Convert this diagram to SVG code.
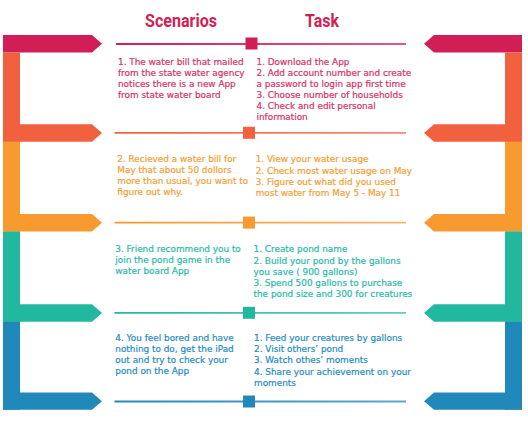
<svg xmlns="http://www.w3.org/2000/svg" width="528" height="428" viewBox="0 0 528 428">
<style>
.t{font-family:"DejaVu Sans","Open Sans",sans-serif;font-size:8.9px;white-space:pre;stroke-width:0.22}
.h{font-family:Roboto,"Liberation Sans",sans-serif;font-weight:700;font-size:17.5px;fill:#D21F56}
.c1{fill:#D21E56}.c2{fill:#F2613F}.c3{fill:#F79A2F}.c4{fill:#22B8A0}.c5{fill:#2189BA}
.x1{fill:#D6336A;stroke:#D6336A}.x2{fill:#F7A035;stroke:#F7A035}.x3{fill:#2DBBA6;stroke:#2DBBA6}.x4{fill:#2A8DBF;stroke:#2A8DBF}
.ln{stroke-width:1.8;fill:none}
</style>
<defs>
<linearGradient id="g1" gradientUnits="userSpaceOnUse" x1="114" x2="406" y1="0" y2="0"><stop offset="0" stop-color="#D21E56"/><stop offset="1" stop-color="#E25A82"/></linearGradient>
<linearGradient id="g2" gradientUnits="userSpaceOnUse" x1="114" x2="406" y1="0" y2="0"><stop offset="0" stop-color="#F2613F"/><stop offset="1" stop-color="#F58A70"/></linearGradient>
<linearGradient id="g3" gradientUnits="userSpaceOnUse" x1="114" x2="406" y1="0" y2="0"><stop offset="0" stop-color="#F7962A"/><stop offset="1" stop-color="#F9B566"/></linearGradient>
<linearGradient id="g4" gradientUnits="userSpaceOnUse" x1="114" x2="406" y1="0" y2="0"><stop offset="0" stop-color="#22B8A0"/><stop offset="1" stop-color="#5FCDBB"/></linearGradient>
<linearGradient id="g5" gradientUnits="userSpaceOnUse" x1="114" x2="406" y1="0" y2="0"><stop offset="0" stop-color="#2189BA"/><stop offset="1" stop-color="#5AA8CF"/></linearGradient>
</defs>

<g id="titles">
<text class="h" x="145" y="26.5" textLength="72" lengthAdjust="spacingAndGlyphs">Scenarios</text>
<text class="h" x="305" y="26.5" textLength="34" lengthAdjust="spacingAndGlyphs">Task</text>
</g>

<g id="frame-1">
<polygon class="c1" points="3,35 92,35 102,43.8 92,52.5 3,52.5"/>
<polygon class="c1" points="522,35 434,35 424,43.8 434,52.5 522,52.5"/>
</g>
<g id="frame-2">
<rect class="c2" x="3" y="52.5" width="17" height="89.3"/>
<rect class="c2" x="505" y="52.5" width="17" height="89.3"/>
<polygon class="c2" points="3,124.3 92,124.3 102,133 92,141.8 3,141.8"/>
<polygon class="c2" points="522,124.3 434,124.3 424,133 434,141.8 522,141.8"/>
</g>
<g id="frame-3">
<rect class="c3" x="3" y="141.8" width="17" height="89.7"/>
<rect class="c3" x="505" y="141.8" width="17" height="89.7"/>
<polygon class="c3" points="3,214 92,214 102,222.8 92,231.5 3,231.5"/>
<polygon class="c3" points="522,214 434,214 424,222.8 434,231.5 522,231.5"/>
</g>
<g id="frame-4">
<rect class="c4" x="3" y="231.5" width="17" height="90.2"/>
<rect class="c4" x="505" y="231.5" width="17" height="90.2"/>
<polygon class="c4" points="3,304.2 92,304.2 102,313 92,321.7 3,321.7"/>
<polygon class="c4" points="522,304.2 434,304.2 424,313 434,321.7 522,321.7"/>
</g>
<g id="frame-5">
<rect class="c5" x="3" y="321.7" width="17" height="88"/>
<rect class="c5" x="505" y="321.7" width="17" height="88"/>
<polygon class="c5" points="3,392.5 92,392.5 102,401.2 92,409.7 3,409.7"/>
<polygon class="c5" points="522,392.5 434,392.5 424,401.2 434,409.7 522,409.7"/>
</g>

<g id="connectors">
<line class="ln" x1="116" y1="44" x2="406" y2="44" stroke="url(#g1)"/>
<rect class="c1" x="245.5" y="37.5" width="12" height="12"/>
<line class="ln" x1="114.5" y1="132.8" x2="406" y2="132.8" stroke="url(#g2)"/>
<rect class="c2" x="243" y="126.8" width="12" height="12"/>
<line class="ln" x1="114.5" y1="222.6" x2="406" y2="222.6" stroke="url(#g3)"/>
<rect class="c3" x="243" y="216.6" width="12" height="12"/>
<line class="ln" x1="114.5" y1="312.8" x2="406" y2="312.8" stroke="url(#g4)"/>
<rect class="c4" x="243" y="306.8" width="12" height="12"/>
<line class="ln" x1="114.5" y1="401.5" x2="406" y2="401.5" stroke="url(#g5)"/>
<rect class="c5" x="243" y="395.5" width="12" height="12"/>
</g>

<g id="scenario-1" class="t x1">
<text x="118" y="65">1. The water bill that mailed</text>
<text x="118" y="76">from the state water agency</text>
<text x="118" y="87">notices there is a new App</text>
<text x="118" y="98">from state water board</text>
</g>
<g id="task-1" class="t x1">
<text x="256.5" y="65">1.  Download the App</text>
<text x="256.5" y="76">2. Add account number and create</text>
<text x="256.5" y="87">a password to login app first time</text>
<text x="256.5" y="98">3. Choose number of households</text>
<text x="256.5" y="109">4. Check and edit personal</text>
<text x="256.5" y="120">information</text>
</g>

<g id="scenario-2" class="t x2">
<text x="117.3" y="162">2. Recieved a water bill for</text>
<text x="117.3" y="173">May that about 50 dollors</text>
<text x="117.3" y="184">more than usual, you want to</text>
<text x="117.3" y="195">figure out why.</text>
</g>
<g id="task-2" class="t x2">
<text x="255.7" y="162">1.  View your water usage</text>
<text x="255.7" y="173.5">2. Check most water usage on May</text>
<text x="255.7" y="184.5">3. Figure out what did you used</text>
<text x="255.7" y="195.5">most water from May 5 - May 11</text>
</g>

<g id="scenario-3" class="t x3">
<text x="115.3" y="252">3. Friend recommend you to</text>
<text x="115.3" y="263">join the pond game in the</text>
<text x="115.3" y="274">water board App</text>
</g>
<g id="task-3" class="t x3">
<text x="253.5" y="252">1.  Create pond name</text>
<text x="253.5" y="264">2. Build your pond by the gallons</text>
<text x="253.5" y="275">you save ( 900 gallons)</text>
<text x="253.5" y="286">3. Spend 500 gallons to purchase</text>
<text x="253.5" y="297">the pond size and 300 for creatures</text>
</g>

<g id="scenario-4" class="t x4">
<text x="115.3" y="340.5">4. You feel bored and have</text>
<text x="115.3" y="351.5">nothing to do, get the iPad</text>
<text x="115.3" y="362.5">out and try to check your</text>
<text x="115.3" y="374">pond on the App</text>
</g>
<g id="task-4" class="t x4">
<text x="254" y="340.5">1.  Feed your creatures by gallons</text>
<text x="254" y="352">2. Visit others’ pond</text>
<text x="254" y="363">3. Watch othes’ moments</text>
<text x="254" y="374.5">4. Share your achievement on your</text>
<text x="254" y="385.5">moments</text>
</g>
</svg>
